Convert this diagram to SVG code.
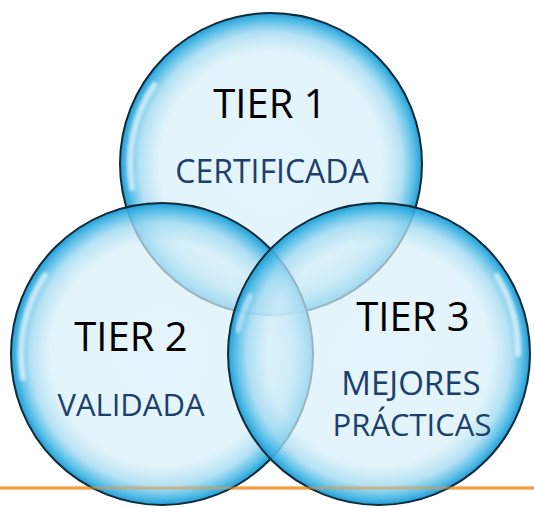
<svg xmlns="http://www.w3.org/2000/svg" width="534" height="508" viewBox="0 0 534 508">
<defs>
<radialGradient id="bub" cx="0.5" cy="0.5" r="0.5">
<stop offset="0" stop-color="#daf0fb" stop-opacity="0.7"/>
<stop offset="0.74" stop-color="#d6eff9" stop-opacity="0.7"/>
<stop offset="0.87" stop-color="#a2daf1" stop-opacity="0.8"/>
<stop offset="0.95" stop-color="#48b8e5" stop-opacity="0.9"/>
<stop offset="1" stop-color="#1a9ad4" stop-opacity="0.97"/>
</radialGradient>
<filter id="soft" x="-20%" y="-20%" width="140%" height="140%">
<feGaussianBlur stdDeviation="1.6"/>
</filter>
</defs>
<style>
.c{fill:url(#bub);stroke:#0f2b39;stroke-width:2}
.hl{fill:none;stroke:#ffffff;stroke-width:6;stroke-linecap:round;opacity:0.6;filter:url(#soft)}
.t{font-family:"Open Sans","Liberation Sans",sans-serif;font-size:40px;fill:#000;text-anchor:middle}
.l{font-family:"Open Sans","Liberation Sans",sans-serif;font-size:31px;fill:#1d3f6e;text-anchor:middle}
</style>
<line x1="0" y1="488" x2="534" y2="488" stroke="#f0a044" stroke-width="3"/>
<g id="tier1">
<circle class="c" cx="271" cy="164" r="151"/>
<path class="hl" d="M 132 188 A 141 141 0 0 1 154 85"/>
</g>
<g id="tier2">
<circle class="c" cx="162" cy="354" r="151"/>
<path class="hl" d="M 23 378 A 141 141 0 0 1 45 275"/>
</g>
<g id="tier3">
<circle class="c" cx="379" cy="354" r="151"/>
<path class="hl" d="M 497 276 A 141 141 0 0 1 518 354"/>
<path class="hl" d="M 238 330 A 141 141 0 0 1 250 296" style="opacity:0.45"/>
</g>
<g id="connectors">
<line x1="0" y1="488" x2="534" y2="488" stroke="#f0a044" stroke-width="3" opacity="0.5"/>
</g>
<g id="labels">
<text class="t" x="270" y="118">TIER 1</text>
<text class="l" x="272" y="183" style="font-size:32px">CERTIFICADA</text>
<text class="t" x="131" y="351">TIER 2</text>
<text class="l" x="131" y="416">VALIDADA</text>
<text class="t" x="413" y="331">TIER 3</text>
<text class="l" x="411" y="395" style="font-size:33px">MEJORES</text>
<text class="l" x="412" y="436">PRÁCTICAS</text>
</g>
</svg>
